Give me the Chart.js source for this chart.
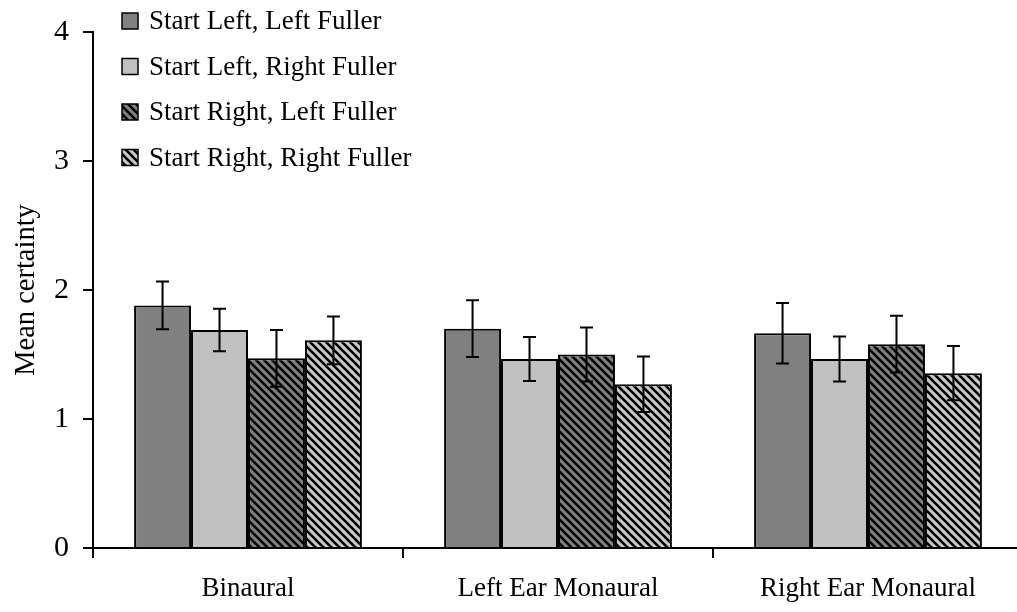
<!DOCTYPE html>
<html>
<head>
<meta charset="utf-8">
<script src="https://cdn.jsdelivr.net/npm/chart.js@4/dist/chart.umd.min.js"></script>
<style>
  html, body { margin: 0; padding: 0; overflow: hidden; background: #fff; }
  #wrap { width: 1030px; height: 612px; }
</style>
</head>
<body>
<div id="wrap"><canvas id="myChart" width="1030" height="612"></canvas></div>
<script>
// values
const categories = ["Binaural", "Left Ear Monaural", "Right Ear Monaural"];
const seriesNames = ["Start Left, Left Fuller", "Start Left, Right Fuller",
                     "Start Right, Left Fuller", "Start Right, Right Fuller"];
const startLeftLeftFuller   = [1.88, 1.70, 1.665];
const startLeftRightFuller  = [1.69, 1.465, 1.465];
const startRightLeftFuller  = [1.47, 1.50, 1.58];
const startRightRightFuller = [1.61, 1.27, 1.355];
const errLeftLeft   = [0.185, 0.22, 0.235];
const errLeftRight  = [0.165, 0.17, 0.175];
const errRightLeft  = [0.22, 0.21, 0.22];
const errRightRight = [0.185, 0.215, 0.21];
const yTicks = [0, 1, 2, 3, 4];

const FONT = "'Liberation Serif', 'Times New Roman', serif";

// diagonal stripes like the old excel fills
function stripes(base) {
    let c = document.createElement("canvas");
    c.width = 8; c.height = 8;
    let g = c.getContext("2d");
    g.fillStyle = base;
    g.fillRect(0, 0, 8, 8);
    g.strokeStyle = "#000";
    g.lineWidth = 2.6;
    for (let k = -8; k <= 8; k += 8) {
        g.beginPath();
        g.moveTo(k - 1, -1);
        g.lineTo(k + 9, 9);
        g.stroke();
    }
    return document.getElementById("myChart").getContext("2d").createPattern(c, "repeat");
}

const fills = ["#808080", "#c0c0c0", stripes("#808080"), stripes("#c8c8c8")];
const values = [startLeftLeftFuller, startLeftRightFuller, startRightLeftFuller, startRightRightFuller];
const errors = [errLeftLeft, errLeftRight, errRightLeft, errRightRight];

const errorBars = {
    id: "errorBars",
    afterDatasetsDraw(chart) {
        let ctx = chart.ctx;
        let y = chart.scales.y;
        ctx.save();
        ctx.strokeStyle = "#000";
        ctx.lineWidth = 2;
        chart.data.datasets.forEach((ds, i) => {
            let meta = chart.getDatasetMeta(i);
            meta.data.forEach((bar, j) => {
                let hi = y.getPixelForValue(ds.data[j] + errors[i][j]);
                let lo = y.getPixelForValue(ds.data[j] - errors[i][j]);
                ctx.beginPath();
                ctx.moveTo(bar.x, hi); ctx.lineTo(bar.x, lo);
                ctx.moveTo(bar.x - 6.5, hi); ctx.lineTo(bar.x + 6.5, hi);
                ctx.moveTo(bar.x - 6.5, lo); ctx.lineTo(bar.x + 6.5, lo);
                ctx.stroke();
            });
        });
        ctx.restore();
    }
};

const cornerLegend = {
    id: "cornerLegend",
    afterDraw(chart) {
        let ctx = chart.ctx;
        ctx.save();
        ctx.font = "27px " + FONT;
        ctx.textBaseline = "middle";
        ctx.fillStyle = "#000";
        chart.data.datasets.forEach((ds, i) => {
            let cy = 21 + i * 45.5;
            ctx.fillStyle = ds.backgroundColor;
            ctx.fillRect(122, cy - 8, 16, 16);
            ctx.strokeStyle = "#000";
            ctx.lineWidth = 1.5;
            ctx.strokeRect(122, cy - 8, 16, 16);
            ctx.fillStyle = "#000";
            ctx.fillText(ds.label, 149, cy + 1);
        });
        ctx.restore();
    }
};

let ctx = document.getElementById("myChart");
let myChart = new Chart(ctx.getContext("2d"), {
    type: "bar",
    data: {
        labels: categories,
        datasets: seriesNames.map((name, i) => ({
            label: name,
            data: values[i],
            backgroundColor: fills[i],
            borderColor: "#000",
            borderWidth: 2,
            categoryPercentage: 0.735,
            barPercentage: 1
        }))
    },
    options: {
        responsive: false,
        animation: false,
        events: [],
        layout: { padding: { top: 22, right: 7, left: 0, bottom: 0 } },
        plugins: { legend: { display: false }, tooltip: { enabled: false } },
        scales: {
            x: {
                afterFit(scale) { scale.height = 64; },
                grid: { offset: true, drawOnChartArea: false, color: "#000", lineWidth: 2, tickLength: 10 },
                border: { color: "#000", width: 2 },
                ticks: { color: "#000", font: { family: FONT, size: 27 }, padding: 15, maxRotation: 0 }
            },
            y: {
                min: 0,
                max: 4,
                afterFit(scale) { scale.width = 93; },
                afterBuildTicks(scale) { scale.ticks = yTicks.map(v => ({ value: v })); },
                grid: { drawOnChartArea: false, color: "#000", lineWidth: 2, tickLength: 10 },
                border: { color: "#000", width: 2 },
                ticks: { color: "#000", font: { family: FONT, size: 30 }, padding: 14 },
                title: {
                    display: true,
                    text: "Mean certainty",
                    color: "#000",
                    font: { family: FONT, size: 28.5 },
                    padding: { top: 9, bottom: 0 }
                }
            }
        }
    },
    plugins: [errorBars, cornerLegend]
});
</script>
</body>
</html>
